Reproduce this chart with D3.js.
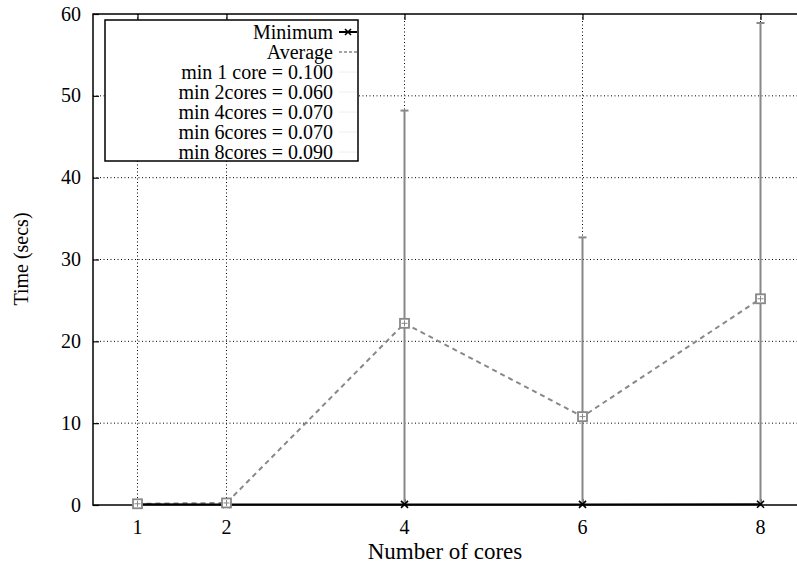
<!DOCTYPE html>
<html>
<head>
<meta charset="utf-8">
<script src="https://cdn.jsdelivr.net/npm/d3@7/dist/d3.min.js"></script>
<style>
  html, body { margin: 0; padding: 0; background: #fff; }
  svg { display: block; }
</style>
</head>
<body>
<svg id="chart" width="797" height="567"></svg>
<script>
// Timing results per core count
const cores    = [1, 2, 4, 6, 8];
const minTime  = [0.100, 0.060, 0.070, 0.070, 0.090];
const avgTime  = [0.15, 0.25, 22.2, 10.8, 25.2];
const maxTime  = [0.3, 0.4, 48.2, 32.7, 58.9];
const minLabels = ["min 1 core", "min 2cores", "min 4cores", "min 6cores", "min 8cores"];
const xTicks = [1, 2, 4, 6, 8];
const yTicks = [0, 10, 20, 30, 40, 50, 60];

const svg = d3.select("#chart");
const plotL = 93, plotT = 14, plotB = 505;
const FONT = '"Liberation Serif"';
const FS = 20;

const x = d3.scaleLinear().domain([0.5, 8.5]).range([plotL, plotL + 8 * 89]);
const y = d3.scaleLinear().domain([0, 60]).range([plotB, plotT]);
const plotR = x.range()[1];

const gray = "#888888";

function label(sel, size = FS) {
  return sel.style("font-family", FONT).attr("font-size", size).attr("fill", "#000");
}

// grid
const grid = svg.append("g");
grid.selectAll(".gy").data(yTicks.filter(d => d > 0 && d < 60)).join("line")
  .attr("x1", plotL).attr("x2", plotR)
  .attr("y1", d => y(d)).attr("y2", d => y(d))
  .attr("stroke", "#000").attr("stroke-width", 1).attr("stroke-dasharray", "1,2.5");
grid.selectAll(".gx").data(xTicks).join("line")
  .attr("x1", d => x(d)).attr("x2", d => x(d))
  .attr("y1", plotT).attr("y2", plotB)
  .attr("stroke", "#000").attr("stroke-width", 1).attr("stroke-dasharray", "1,2.5");

// axes with inward ticks
const yAxis = svg.append("g").attr("transform", `translate(${plotL},0)`)
  .call(d3.axisRight(y).tickValues(yTicks).tickSize(6).tickFormat(""));
yAxis.select(".domain").remove();
yAxis.selectAll("line").attr("stroke", "#000").attr("stroke-width", 1.2);

const topAxis = svg.append("g").attr("transform", `translate(0,${plotT})`)
  .call(d3.axisBottom(x).tickValues(xTicks).tickSize(6).tickFormat(""));
topAxis.select(".domain").remove();
topAxis.selectAll("line").attr("stroke", "#000").attr("stroke-width", 1.2);

const botAxis = svg.append("g").attr("transform", `translate(0,${plotB})`)
  .call(d3.axisTop(x).tickValues(xTicks).tickSize(6).tickFormat(""));
botAxis.select(".domain").remove();
botAxis.selectAll("line").attr("stroke", "#000").attr("stroke-width", 1.2);

// tick labels
svg.append("g").selectAll("text").data(yTicks).join("text")
  .attr("x", 81).attr("y", d => y(d)).attr("dy", "0.33em")
  .attr("text-anchor", "end").call(label)
  .text(d => d);
svg.append("g").selectAll("text").data(xTicks).join("text")
  .attr("x", d => x(d)).attr("y", 534)
  .attr("text-anchor", "middle").call(label)
  .text(d => d);

// axis titles
svg.append("text").attr("x", 445).attr("y", 559)
  .attr("text-anchor", "middle").call(label, 23).text("Number of cores");
svg.append("text").attr("transform", `translate(28,259) rotate(-90)`)
  .attr("text-anchor", "middle").call(label).text("Time (secs)");

// plot frame
svg.append("rect").attr("x", plotL).attr("y", plotT)
  .attr("width", plotR - plotL).attr("height", plotB - plotT)
  .attr("fill", "none").attr("stroke", "#000").attr("stroke-width", 1.5);

const pts = cores.map((c, i) => ({ c, min: minTime[i], avg: avgTime[i], max: maxTime[i] }));

// error bars (min .. max)
const eb = svg.append("g");
eb.selectAll(".bar").data(pts).join("line")
  .attr("x1", d => x(d.c)).attr("x2", d => x(d.c))
  .attr("y1", d => y(d.min)).attr("y2", d => y(d.max))
  .attr("stroke", gray).attr("stroke-width", 2);
eb.selectAll(".cap").data(pts).join("line")
  .attr("x1", d => x(d.c) - 4).attr("x2", d => x(d.c) + 4)
  .attr("y1", d => y(d.max)).attr("y2", d => y(d.max))
  .attr("stroke", gray).attr("stroke-width", 2);

// average line
svg.append("path").datum(pts)
  .attr("d", d3.line().x(d => x(d.c)).y(d => y(d.avg)))
  .attr("fill", "none").attr("stroke", gray).attr("stroke-width", 2)
  .attr("stroke-dasharray", "5,4");

// minimum line
svg.append("path").datum(pts)
  .attr("d", d3.line().x(d => x(d.c)).y(d => y(d.min)))
  .attr("fill", "none").attr("stroke", "#000").attr("stroke-width", 2);

function cross(g, cx, cy, s) {
  g.append("path")
    .attr("d", `M${cx - s},${cy - s}L${cx + s},${cy + s}M${cx - s},${cy + s}L${cx + s},${cy - s}`)
    .attr("stroke", "#000").attr("stroke-width", 1.6).attr("fill", "none");
}
const mk = svg.append("g");
pts.forEach(d => cross(mk, x(d.c), y(d.min), 3.5));

// average markers: boxed points
const am = svg.append("g");
pts.forEach(d => {
  const cx = x(d.c), cy = y(d.avg);
  am.append("rect").attr("x", cx - 4.5).attr("y", cy - 4.5).attr("width", 9).attr("height", 9)
    .attr("fill", "#fff").attr("stroke", gray).attr("stroke-width", 1.8);
  am.append("path")
    .attr("d", `M${cx},${cy - 3}L${cx},${cy + 3}M${cx - 3},${cy}L${cx + 3},${cy}`)
    .attr("stroke", gray).attr("stroke-width", 1);
});

// legend
const lg = svg.append("g");
lg.append("rect").attr("x", 105).attr("y", 20).attr("width", 253).attr("height", 141)
  .attr("fill", "#fff").attr("stroke", "#000").attr("stroke-width", 1.5);
const rowY = i => 32 + i * 20;
const textX = 333, sx1 = 339, sx2 = 357;

lg.append("text").attr("x", textX).attr("y", rowY(0)).attr("dy", "0.33em")
  .attr("text-anchor", "end").call(label).text("Minimum");
lg.append("line").attr("x1", sx1).attr("x2", sx2).attr("y1", rowY(0)).attr("y2", rowY(0))
  .attr("stroke", "#000").attr("stroke-width", 2);
cross(lg, (sx1 + sx2) / 2, rowY(0), 3);

lg.append("text").attr("x", textX).attr("y", rowY(1)).attr("dy", "0.33em")
  .attr("text-anchor", "end").call(label).text("Average");
lg.append("line").attr("x1", sx1).attr("x2", sx2).attr("y1", rowY(1)).attr("y2", rowY(1))
  .attr("stroke", gray).attr("stroke-width", 1.5).attr("stroke-dasharray", "3,2");

const fmt = d3.format(".3f");
minLabels.forEach((lab, i) => {
  lg.append("text").attr("x", textX).attr("y", rowY(i + 2)).attr("dy", "0.33em")
    .attr("text-anchor", "end").call(label)
    .text(`${lab} = ${fmt(minTime[i])}`);
  lg.append("line").attr("x1", sx1).attr("x2", sx2).attr("y1", rowY(i + 2)).attr("y2", rowY(i + 2))
    .attr("stroke", "#eee").attr("stroke-width", 1);
});
</script>
</body>
</html>
